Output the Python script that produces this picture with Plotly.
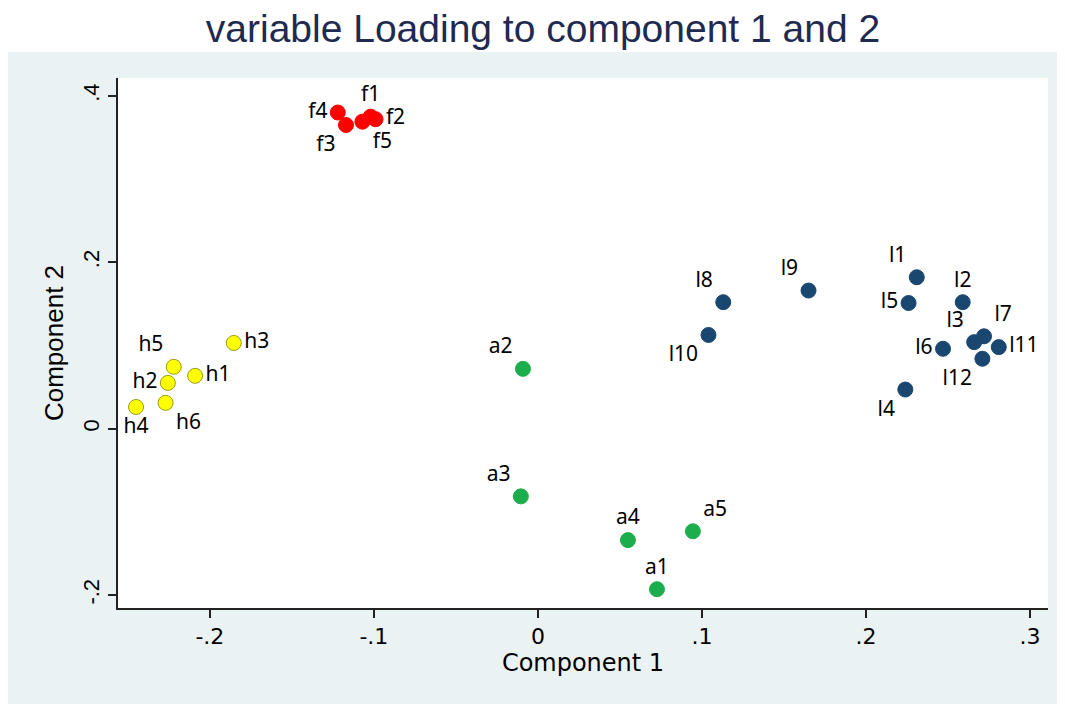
import plotly.graph_objects as go

# ---- data ----
f_labels = ["f1", "f2", "f3", "f4", "f5"]
f_x = [-0.102, -0.099, -0.117, -0.122, -0.107]
f_y = [0.375, 0.372, 0.365, 0.380, 0.369]

h_labels = ["h1", "h2", "h3", "h4", "h5", "h6"]
h_x = [-0.209, -0.2256, -0.1854, -0.245, -0.222, -0.227]
h_y = [0.0635, 0.055, 0.103, 0.026, 0.0743, 0.031]

l_labels = ["l1", "l2", "l3", "l4", "l5", "l6", "l7", "l8", "l9", "l10", "l11", "l12"]
l_x = [0.231, 0.259, 0.266, 0.224, 0.226, 0.247, 0.272, 0.113, 0.165, 0.104, 0.281, 0.271]
l_y = [0.182, 0.152, 0.104, 0.047, 0.151, 0.096, 0.111, 0.152, 0.166, 0.1126, 0.098, 0.084]

a_labels = ["a1", "a2", "a3", "a4", "a5"]
a_x = [0.0726, -0.0091, -0.0104, 0.0549, 0.0945]
a_y = [-0.193, 0.0719, -0.0814, -0.134, -0.1234]

x_tickvals = [-0.2, -0.1, 0, 0.1, 0.2, 0.3]
x_ticktext = ["-.2", "-.1", "0", ".1", ".2", ".3"]
y_tickvals = [-0.2, 0, 0.2, 0.4]
y_ticktext = ["-.2", "0", ".2", ".4"]

# ---- label positions (styling) ----
f_pos = ["top center", "middle right", "bottom left", "middle left", "bottom right"]
h_pos = ["middle right", "middle left", "middle right", "bottom center", "top left", "bottom right"]
l_pos = ["top left", "top center", "top left", "bottom left", "middle left", "middle left",
         "top right", "top left", "top left", "bottom left", "middle right", "bottom left"]
a_pos = ["top center", "top left", "top left", "top center", "top right"]

label_font = dict(family="Noto Sans, Liberation Sans, sans-serif", size=21, color="black")

W, H = 1049, 696
ML, MR, MT, MB = 110, 9, 70, 96
plot_h = H - MT - MB

fig = go.Figure()

def add(xs, ys, labels, pos, color, line_color):
    fig.add_trace(go.Scatter(
        x=xs, y=ys, text=labels, mode="markers+text", textposition=pos,
        marker=dict(size=15, color=color, line=dict(color=line_color, width=1)),
        textfont=label_font, showlegend=False, cliponaxis=False,
    ))

add(f_x, f_y, f_labels, f_pos, "#ff0000", "#ff0000")
add(h_x, h_y, h_labels, h_pos, "#ffff00", "#9a9a20")
add(l_x, l_y, l_labels, l_pos, "#1a476f", "#1a476f")
add(a_x, a_y, a_labels, a_pos, "#1cae4c", "#1cae4c")

fig.update_layout(
    width=W, height=H,
    margin=dict(l=ML, r=MR, t=MT, b=MB),
    paper_bgcolor="#eaf2f3",
    plot_bgcolor="white",
    title=dict(text="variable Loading to component 1 and 2", x=0.510, xanchor="center",
               y=1 - 20 / H, yanchor="middle",
               font=dict(family="Liberation Sans, Arial, sans-serif", size=39, color="#1e2a50")),
    shapes=[dict(type="rect", xref="paper", yref="paper", x0=-0.2, x1=1.2,
                 y0=1 + (MT - 44) / plot_h, y1=2,
                 fillcolor="white", line=dict(width=0), layer="below")],
    font=dict(family="Liberation Sans, Arial, sans-serif", color="black"),
)

fig.update_xaxes(
    range=[-0.256, 0.311], tickvals=x_tickvals, ticktext=x_ticktext,
    showgrid=False, zeroline=False, showline=True, linecolor="#222222", linewidth=2,
    ticks="outside", ticklen=8, tickcolor="#222222", tickwidth=1.5,
    tickfont=dict(family="DejaVu Sans, sans-serif", size=22, color="black"),
    title=dict(text="Component 1", font=dict(family="DejaVu Sans, sans-serif", size=24, color="black"), standoff=4),
)
fig.update_yaxes(
    range=[-0.2156, 0.4215], tickvals=y_tickvals, ticktext=y_ticktext, tickangle=-90,
    showgrid=False, zeroline=False, showline=True, linecolor="#222222", linewidth=2,
    ticks="outside", ticklen=8, tickcolor="#222222", tickwidth=1.5,
    tickfont=dict(family="Liberation Sans, Arial, sans-serif", size=22, color="black"),
    title=dict(text="Component 2", font=dict(family="Liberation Sans, Arial, sans-serif", size=26, color="black"), standoff=8),
)

fig.write_html("out.html")
